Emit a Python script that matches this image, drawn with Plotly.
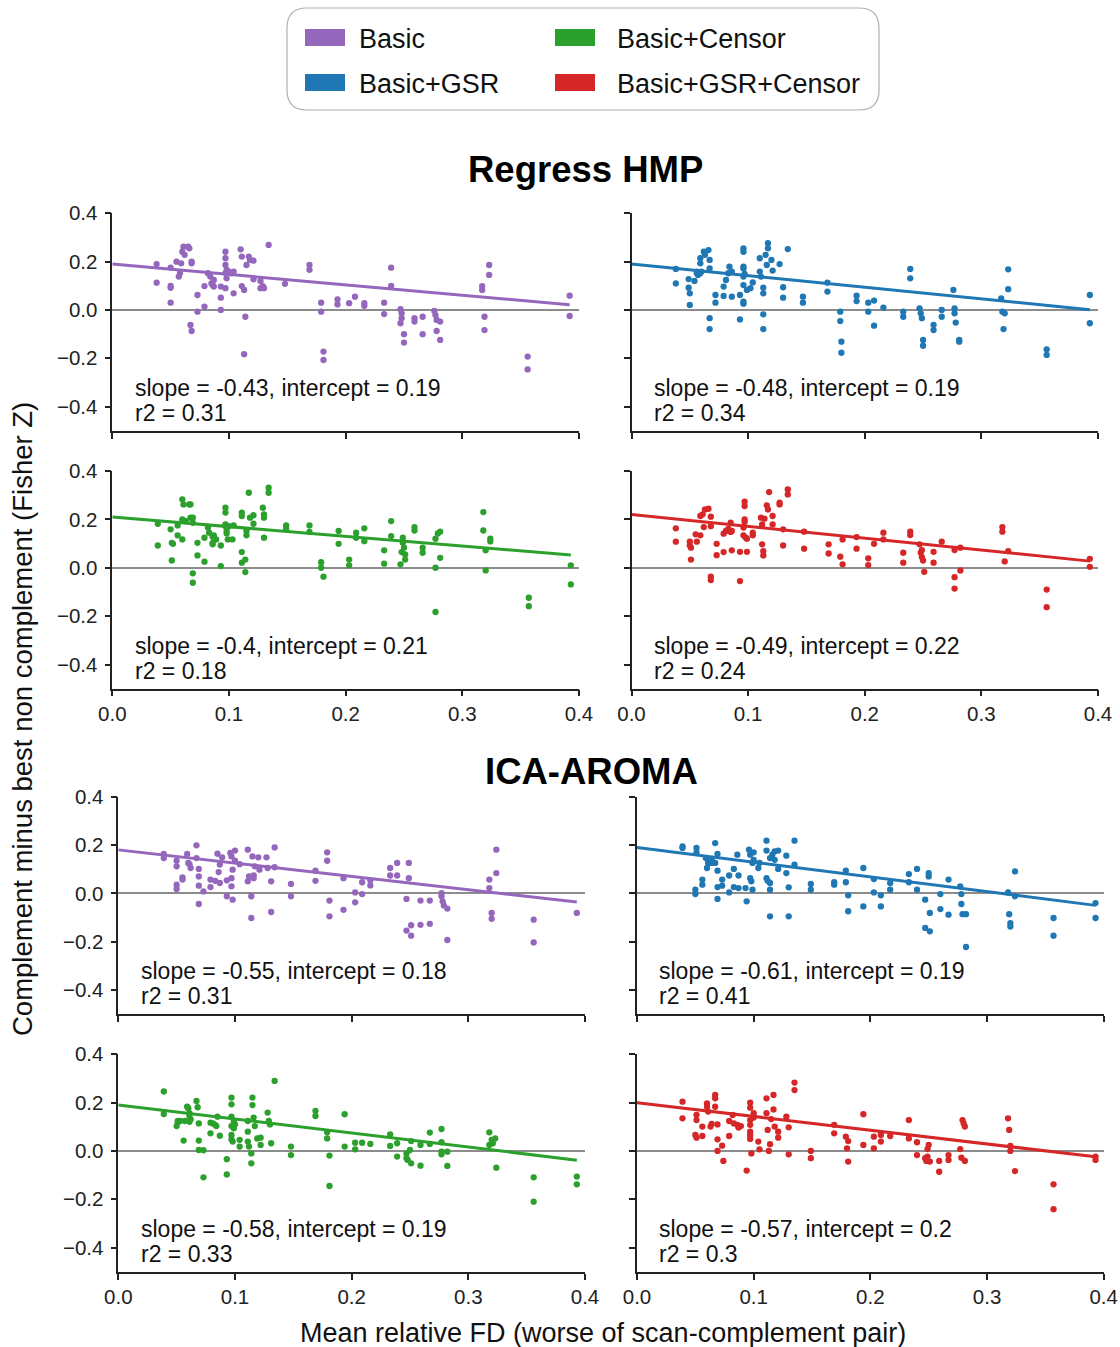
import plotly.graph_objects as go

W, H = 1120, 1347

# ---------------- data ----------------
CONDITIONS = ["Basic", "Basic+GSR", "Basic+Censor", "Basic+GSR+Censor"]
COLORS = ["#9467bd", "#1f77b4", "#2ca02c", "#d62728"]
SECTIONS = ["Regress HMP", "ICA-AROMA"]
X_TICKS = [0.0, 0.1, 0.2, 0.3, 0.4]
Y_TICKS = [-0.4, -0.2, 0.0, 0.2, 0.4]

HMP_BASIC = [(0.038,0.190),(0.038,0.113),
(0.050,0.175),(0.050,0.092),(0.050,0.100),(0.050,0.030),
(0.055,0.200),(0.057,0.138),(0.058,0.152),(0.059,0.193),(0.060,0.241),(0.061,0.262),(0.062,0.228),(0.065,0.262),(0.066,0.255),(0.068,0.193),(0.068,0.200),(0.067,-0.062),(0.068,-0.087),(0.073,0.062),(0.073,-0.007),
(0.079,0.099),(0.079,0.014),(0.082,0.152),(0.084,0.138),(0.085,0.110),(0.087,0.124),(0.087,0.097),(0.086,0.103),
(0.093,0.051),(0.093,0.000),(0.093,0.097),
(0.097,0.241),(0.097,0.214),(0.097,0.186),(0.097,0.152),(0.098,0.131),(0.097,0.090),(0.098,0.166),(0.100,0.159),(0.102,0.152),(0.104,0.159),(0.104,0.069),
(0.110,0.251),(0.111,0.221),(0.111,0.099),(0.113,0.083),(0.114,-0.028),(0.113,-0.183),(0.115,0.186),(0.117,0.221),(0.118,0.207),(0.121,0.204),(0.121,0.127),(0.127,0.120),(0.127,0.090),(0.129,0.099),(0.130,0.090),
(0.134,0.269),(0.148,0.108),(0.169,0.186),(0.169,0.166),
(0.179,0.030),(0.179,-0.007),(0.181,-0.172),(0.181,-0.207),
(0.193,0.044),(0.193,0.023),(0.203,0.028),(0.208,0.055),(0.216,0.028),(0.216,0.017),
(0.233,0.030),(0.233,-0.017),(0.239,0.175),(0.239,0.100),
(0.247,0.003),(0.248,-0.014),(0.248,-0.034),(0.247,-0.055),(0.250,-0.100),(0.250,-0.135),
(0.259,-0.034),(0.259,-0.048),(0.266,-0.028),(0.266,-0.100),
(0.276,-0.004),(0.277,-0.021),(0.278,-0.041),(0.281,-0.048),(0.278,-0.087),(0.281,-0.124),
(0.317,0.099),(0.317,0.083),(0.319,-0.028),(0.319,-0.083),(0.323,0.186),(0.323,0.145),
(0.356,-0.193),(0.356,-0.246),
(0.392,0.059),(0.392,-0.025)]

HMP_GSR = [(0.038,0.170),(0.038,0.110),
(0.049,0.128),(0.049,0.092),(0.050,0.069),(0.050,0.021),
(0.054,0.120),(0.056,0.152),(0.057,0.145),(0.059,0.214),(0.059,0.193),(0.060,0.159),(0.062,0.241),(0.063,0.228),(0.066,0.248),(0.067,0.207),(0.067,0.172),(0.067,-0.034),(0.067,-0.079),(0.072,0.062),(0.072,0.030),(0.059,0.152),(0.056,0.159),
(0.079,0.097),(0.079,0.058),(0.081,0.124),(0.083,0.152),(0.084,0.179),(0.086,0.159),(0.086,0.055),(0.093,0.062),(0.093,-0.039),
(0.096,0.255),(0.096,0.241),(0.096,0.172),(0.096,0.179),(0.096,0.138),(0.096,0.103),(0.096,0.034),(0.096,0.026),(0.099,0.083),(0.102,0.090),(0.104,0.114),(0.097,0.149),
(0.110,0.214),(0.110,0.159),(0.111,0.138),(0.113,0.092),(0.113,0.069),(0.113,-0.018),(0.113,-0.079),(0.115,0.228),(0.116,0.186),(0.117,0.276),(0.117,0.255),(0.120,0.207),(0.121,0.163),(0.127,0.190),(0.130,0.094),(0.130,0.051),(0.134,0.252),
(0.147,0.055),(0.147,0.030),(0.168,0.113),(0.168,0.076),
(0.179,-0.007),(0.179,-0.046),(0.180,-0.131),(0.180,-0.177),
(0.193,0.059),(0.193,0.037),(0.203,0.030),(0.203,-0.007),(0.208,0.039),(0.208,-0.065),(0.216,0.010),
(0.233,-0.007),(0.233,-0.028),(0.239,0.170),(0.239,0.131),
(0.247,0.007),(0.248,-0.014),(0.249,-0.034),(0.250,-0.124),(0.250,-0.148),
(0.259,-0.062),(0.259,-0.083),(0.266,0.000),(0.266,-0.028),
(0.276,0.083),(0.277,0.007),(0.277,-0.014),(0.278,-0.052),(0.281,-0.124),(0.281,-0.131),
(0.317,0.048),(0.318,-0.007),(0.320,-0.014),(0.319,-0.079),(0.323,0.168),(0.323,0.086),
(0.356,-0.163),(0.356,-0.186),
(0.393,0.062),(0.393,-0.055)]

HMP_CENSOR = [(0.039,0.182),(0.039,0.092),
(0.050,0.159),(0.051,0.103),(0.052,0.099),(0.051,0.030),
(0.056,0.134),(0.056,0.175),(0.060,0.117),(0.060,0.283),(0.061,0.262),(0.060,0.200),(0.062,0.193),(0.063,0.193),(0.066,0.262),(0.067,0.262),(0.067,0.207),(0.069,0.207),(0.069,0.186),(0.069,-0.023),(0.069,-0.062),(0.073,0.103),(0.073,0.051),(0.079,0.025),(0.079,0.124),
(0.082,0.166),(0.083,0.145),(0.086,0.128),(0.086,0.103),(0.086,0.097),(0.087,0.134),(0.089,0.117),(0.093,0.092),(0.093,0.007),
(0.097,0.248),(0.097,0.228),(0.097,0.179),(0.097,0.172),(0.098,0.152),(0.098,0.142),(0.099,0.117),(0.100,0.172),(0.103,0.117),(0.104,0.175),
(0.111,0.228),(0.111,0.214),(0.111,0.065),(0.111,0.021),(0.114,0.034),(0.114,-0.018),(0.115,0.152),(0.115,0.134),(0.117,0.310),(0.118,0.207),(0.121,0.217),(0.121,0.182),(0.129,0.248),(0.130,0.221),(0.130,0.207),(0.130,0.124),(0.134,0.331),(0.134,0.310),
(0.149,0.175),(0.149,0.161),(0.169,0.175),(0.169,0.148),
(0.179,0.023),(0.179,0.000),(0.181,-0.037),
(0.194,0.152),(0.194,0.099),(0.203,0.034),(0.203,0.010),(0.209,0.145),(0.209,0.124),(0.216,0.163),(0.216,0.110),
(0.233,0.072),(0.233,0.017),(0.239,0.193),(0.239,0.131),
(0.247,0.014),(0.248,0.065),(0.249,0.124),(0.249,0.103),(0.250,0.083),(0.251,0.055),(0.251,0.034),
(0.259,0.168),(0.259,0.154),(0.266,0.083),(0.266,0.062),
(0.277,0.000),(0.277,0.120),(0.279,0.142),(0.281,0.149),(0.281,0.041),(0.277,-0.183),
(0.318,0.230),(0.318,0.154),(0.320,0.072),(0.320,-0.011),(0.324,0.120),(0.324,0.109),
(0.357,-0.124),(0.357,-0.159),
(0.393,0.010),(0.393,-0.069)]

HMP_GSR_CENSOR = [(0.038,0.163),(0.038,0.108),
(0.050,0.108),(0.050,0.092),(0.051,0.083),(0.051,0.034),
(0.055,0.138),(0.056,0.108),(0.059,0.134),(0.059,0.214),(0.061,0.221),(0.062,0.168),(0.063,0.241),(0.066,0.244),(0.068,0.211),(0.068,0.172),(0.068,-0.037),(0.068,-0.051),(0.073,0.099),(0.073,0.052),
(0.079,0.141),(0.079,0.065),(0.081,0.152),(0.083,0.161),(0.085,0.186),(0.085,0.148),(0.086,0.152),(0.086,0.072),(0.093,-0.055),(0.093,0.066),(0.099,0.066),
(0.097,0.273),(0.097,0.255),(0.097,0.200),(0.097,0.189),(0.096,0.166),(0.096,0.134),(0.098,0.124),(0.099,0.120),(0.104,0.145),(0.104,0.134),
(0.111,0.207),(0.112,0.179),(0.112,0.097),(0.113,0.069),(0.113,0.051),(0.114,0.203),(0.116,0.258),(0.117,0.241),(0.118,0.313),(0.121,0.214),(0.121,0.179),(0.127,0.262),(0.127,0.269),(0.130,0.159),(0.130,0.092),(0.134,0.324),(0.134,0.303),
(0.148,0.149),(0.148,0.079),(0.169,0.097),(0.169,0.059),
(0.179,0.046),(0.181,0.117),(0.181,0.014),
(0.193,0.127),(0.193,0.079),(0.203,0.039),(0.203,0.011),(0.208,0.099),(0.216,0.145),(0.216,0.117),
(0.233,0.062),(0.233,0.021),(0.239,0.149),(0.239,0.135),
(0.247,0.097),(0.248,0.062),(0.249,0.044),(0.250,0.030),(0.251,-0.017),(0.249,0.073),
(0.259,0.066),(0.259,0.021),(0.266,0.108),
(0.277,0.073),(0.277,-0.039),(0.277,-0.086),(0.282,0.083),(0.282,-0.011),
(0.318,0.168),(0.318,0.149),(0.320,0.026),(0.323,0.069),
(0.356,-0.090),(0.356,-0.163),
(0.393,0.037),(0.393,0.004)]

AROMA_BASIC = [(0.039,0.163),(0.039,0.146),
(0.050,0.135),(0.050,0.112),(0.050,0.036),(0.050,0.018),(0.055,0.066),(0.055,0.057),
(0.059,0.163),(0.060,0.126),(0.061,0.121),(0.062,0.105),(0.067,0.199),(0.067,0.146),(0.069,0.101),(0.069,0.070),(0.069,0.032),(0.069,-0.044),(0.073,0.008),(0.079,0.026),(0.079,0.057),(0.083,0.052),(0.085,0.164),(0.086,0.088),(0.087,0.119),(0.087,0.043),(0.089,0.149),
(0.093,0.054),(0.093,-0.012),(0.096,0.167),(0.097,0.153),(0.097,0.063),(0.097,0.029),(0.098,0.098),(0.098,-0.026),(0.100,0.177),(0.104,0.121),(0.100,0.135),
(0.111,0.181),(0.111,0.050),(0.112,0.070),(0.114,-0.012),(0.114,-0.102),(0.115,0.153),(0.116,0.063),(0.116,0.074),(0.117,0.112),(0.120,0.149),(0.121,0.098),(0.127,0.149),(0.128,0.105),(0.131,0.050),(0.131,-0.077),(0.134,0.190),(0.134,0.108),
(0.148,0.039),(0.148,-0.012),
(0.169,0.094),(0.169,0.052),(0.179,0.170),(0.179,0.135),(0.181,-0.030),(0.181,-0.095),
(0.193,0.063),(0.193,-0.068),
(0.203,0.004),(0.203,-0.037),(0.209,0.046),(0.209,-0.003),(0.216,0.054),(0.216,0.033),
(0.233,0.105),(0.233,0.074),(0.239,0.126),(0.239,0.074),
(0.247,-0.023),(0.247,-0.154),(0.249,0.126),(0.249,0.063),(0.251,-0.132),(0.251,-0.175),
(0.259,-0.030),(0.259,-0.130),(0.267,-0.030),(0.267,-0.126),
(0.277,0.001),(0.277,-0.012),(0.278,-0.033),(0.279,-0.050),(0.282,-0.063),(0.282,-0.193),
(0.318,0.057),(0.318,0.022),(0.320,-0.081),(0.320,-0.105),(0.324,0.181),(0.324,0.084),
(0.356,-0.109),(0.356,-0.203),
(0.393,-0.081)]

AROMA_GSR = [(0.039,0.194),(0.039,0.188),
(0.050,0.015),(0.050,-0.003),(0.051,0.188),(0.051,0.170),
(0.056,0.057),(0.056,0.036),(0.059,0.146),(0.060,0.105),(0.061,0.126),(0.061,0.135),(0.063,0.126),(0.064,0.139),(0.066,0.126),(0.067,0.208),(0.067,0.126),(0.069,0.163),(0.069,0.094),(0.069,0.026),(0.069,-0.023),(0.073,0.032),(0.073,0.057),(0.079,0.074),(0.079,0.004),(0.083,0.101),(0.083,0.026),(0.086,0.160),(0.087,0.074),(0.087,0.022),(0.093,0.022),(0.094,-0.033),
(0.096,0.181),(0.097,0.160),(0.097,0.063),(0.098,0.050),(0.099,0.015),(0.099,0.126),(0.100,0.170),(0.100,0.139),(0.104,0.105),(0.105,0.126),
(0.111,0.218),(0.111,0.177),(0.111,0.063),(0.112,0.052),(0.114,0.043),(0.114,0.015),(0.114,-0.095),(0.114,0.146),(0.116,0.160),(0.118,0.174),(0.118,0.139),(0.121,0.177),(0.121,0.101),(0.128,0.156),(0.128,0.084),(0.130,0.025),(0.130,-0.095),(0.135,0.218),(0.135,0.119),
(0.149,0.039),(0.149,0.015),(0.169,0.046),(0.169,0.036),
(0.179,0.094),(0.179,0.046),(0.181,-0.008),(0.181,-0.074),
(0.194,0.105),(0.194,-0.054),
(0.203,0.059),(0.203,0.004),(0.209,-0.008),(0.209,-0.054),(0.217,0.043),(0.217,0.015),
(0.233,0.080),(0.233,0.046),(0.240,0.101),(0.240,0.015),
(0.247,-0.026),(0.247,-0.143),(0.250,0.084),(0.250,0.070),(0.251,-0.081),(0.251,-0.157),
(0.260,-0.003),(0.260,-0.065),(0.267,0.057),(0.267,-0.088),
(0.277,0.029),(0.278,-0.003),(0.278,-0.044),(0.279,-0.086),(0.282,-0.086),(0.282,-0.222),
(0.318,0.004),(0.319,-0.086),(0.320,-0.123),(0.320,-0.137),(0.324,-0.012),(0.324,0.091),
(0.357,-0.102),(0.357,-0.175),
(0.393,-0.040),(0.393,-0.102)]

AROMA_CENSOR = [(0.039,0.246),(0.039,0.153),
(0.050,0.103),(0.051,0.124),(0.051,0.119),(0.053,0.124),(0.056,0.043),(0.057,0.124),(0.059,0.183),(0.060,0.177),(0.061,0.156),(0.061,0.145),(0.061,0.121),(0.062,0.131),(0.067,0.207),(0.068,0.181),(0.069,0.114),(0.069,0.043),(0.069,0.004),(0.073,0.003),(0.073,-0.109),(0.079,0.073),(0.079,0.117),(0.081,0.114),(0.083,0.108),(0.084,0.103),(0.085,0.142),(0.087,0.063),(0.093,-0.034),(0.093,-0.097),
(0.097,0.221),(0.097,0.193),(0.097,0.142),(0.097,0.103),(0.097,0.066),(0.097,0.048),(0.098,0.039),(0.099,0.094),(0.099,0.121),(0.100,0.110),(0.104,0.046),(0.104,0.018),
(0.111,0.124),(0.111,0.080),(0.111,0.039),(0.112,0.018),(0.114,-0.010),(0.114,-0.051),(0.115,0.221),(0.115,0.190),(0.116,0.138),(0.117,0.103),(0.119,0.052),(0.122,0.055),(0.122,0.025),(0.128,0.159),(0.129,0.124),(0.130,0.110),(0.131,0.032),(0.134,0.290),
(0.148,0.018),(0.148,-0.017),(0.169,0.166),(0.169,0.145),
(0.179,0.077),(0.179,0.052),(0.181,-0.019),(0.181,-0.145),
(0.194,0.152),(0.194,0.018),
(0.203,0.034),(0.203,0.007),(0.209,0.034),(0.216,0.029),
(0.233,0.069),(0.233,0.021),(0.239,0.032),(0.239,-0.023),
(0.247,-0.010),(0.247,-0.030),(0.248,-0.037),(0.250,0.004),(0.251,-0.051),(0.251,0.041),
(0.259,0.025),(0.259,-0.061),(0.267,0.076),(0.267,0.029),
(0.277,0.091),(0.277,0.036),(0.277,-0.003),(0.277,-0.014),(0.282,-0.003),(0.282,-0.062),
(0.318,0.077),(0.318,0.025),(0.320,0.046),(0.321,0.032),(0.323,0.052),(0.324,-0.069),
(0.356,-0.109),(0.356,-0.210),
(0.393,-0.106),(0.393,-0.138)]

AROMA_GSR_CENSOR = [(0.039,0.204),(0.039,0.135),
(0.050,0.066),(0.051,0.055),(0.051,0.149),(0.051,0.128),(0.056,0.062),(0.056,0.101),(0.060,0.197),(0.060,0.183),(0.061,0.163),(0.063,0.101),(0.064,0.112),(0.067,0.232),(0.067,0.218),(0.067,0.183),(0.069,0.110),(0.069,0.048),(0.069,0.000),(0.073,0.022),(0.074,-0.041),(0.079,0.062),(0.079,0.124),(0.082,0.149),(0.083,0.114),(0.086,0.108),(0.087,0.097),(0.089,0.103),(0.094,-0.081),
(0.097,0.200),(0.097,0.179),(0.097,0.128),(0.097,0.108),(0.097,0.080),(0.097,0.066),(0.097,0.050),(0.098,-0.010),(0.100,0.156),(0.100,0.138),(0.104,0.039),(0.105,0.007),
(0.111,0.218),(0.111,0.156),(0.112,0.087),(0.113,0.000),(0.114,0.028),(0.115,0.132),(0.117,0.232),(0.117,0.172),(0.118,0.101),(0.121,0.080),(0.121,0.055),(0.128,0.142),(0.130,0.098),(0.130,-0.014),(0.135,0.283),(0.135,0.252),
(0.149,0.000),(0.149,-0.030),(0.169,0.108),(0.169,0.073),
(0.179,0.059),(0.181,0.041),(0.180,0.011),(0.181,-0.044),
(0.194,0.152),(0.194,0.025),
(0.203,0.059),(0.203,0.011),(0.209,0.066),(0.209,0.039),(0.217,0.062),
(0.233,0.128),(0.233,0.052),(0.240,0.036),(0.240,-0.017),
(0.247,-0.030),(0.248,-0.041),(0.249,-0.023),(0.250,0.025),(0.251,-0.044),(0.249,0.008),
(0.259,-0.041),(0.259,-0.086),(0.267,-0.017),(0.267,-0.037),
(0.277,0.008),(0.278,-0.028),(0.279,0.128),(0.280,0.114),(0.281,0.101),(0.281,-0.041),
(0.318,0.135),(0.319,0.087),(0.320,0.021),(0.320,0.000),(0.324,-0.083),
(0.357,-0.138),(0.357,-0.241),
(0.393,-0.023),(0.393,-0.037)]

# panel order: HMP (Basic, GSR, Censor, GSR+Censor), AROMA (same)
PANEL_POINTS = [HMP_BASIC, HMP_GSR, HMP_CENSOR, HMP_GSR_CENSOR,
                AROMA_BASIC, AROMA_GSR, AROMA_CENSOR, AROMA_GSR_CENSOR]
SLOPES = [-0.43, -0.48, -0.4, -0.49, -0.55, -0.61, -0.58, -0.57]
INTERCEPTS = [0.19, 0.19, 0.21, 0.22, 0.18, 0.19, 0.19, 0.2]
R2 = [0.31, 0.34, 0.18, 0.24, 0.31, 0.41, 0.33, 0.3]

# ---------------- layout geometry (pixels of the reference) ----------------
FONT = "Liberation Sans, Arial, Helvetica, sans-serif"
INK = "#222222"

def fx(p):
    return p / W

def fy(p):
    return 1 - p / H

# [left, right] pixels of x-axes per column, [top, bottom] pixels of y-axes per row
COL_PX = [[(112.3, 579.0), (631.5, 1098.0)], [(118.3, 585.0), (637.0, 1103.7)]]
ROW_PX = [(213.3, 430.8), (471.0, 688.7), (796.7, 1014.2), (1054.3, 1271.8)]

fig = go.Figure()
layout_axes = {}
annotations = []

for i, pts in enumerate(PANEL_POINTS):
    sec = i // 4
    k = i % 4
    row = sec * 2 + k // 2
    col = k % 2
    n = i + 1
    xa = "x" if n == 1 else f"x{n}"
    ya = "y" if n == 1 else f"y{n}"
    xs = [p[0] for p in pts]
    ys = [p[1] for p in pts]
    color = COLORS[k]
    fig.add_trace(go.Scatter(x=xs, y=ys, mode="markers", xaxis=xa, yaxis=ya,
                             marker=dict(size=6.3, color=color, line=dict(width=0)),
                             showlegend=False, hoverinfo="x+y"))
    x_end = max(xs)
    lx = [0.0, x_end]
    ly = [INTERCEPTS[i] + SLOPES[i] * v for v in lx]
    fig.add_trace(go.Scatter(x=lx, y=ly, mode="lines", xaxis=xa, yaxis=ya,
                             line=dict(color=color, width=3),
                             showlegend=False, hoverinfo="skip"))
    l, r = COL_PX[sec][col]
    t, b = ROW_PX[row]
    show_x = (row % 2 == 1)
    show_y = (col == 0)
    layout_axes["xaxis" if n == 1 else f"xaxis{n}"] = dict(
        domain=[fx(l), fx(r)], range=[0, 0.4], anchor=ya, automargin=False,
        tickvals=X_TICKS, tickformat=".1f", ticks="outside", ticklen=6,
        tickwidth=1.5, tickcolor=INK, showline=True, linecolor=INK, linewidth=1.5,
        showgrid=False, zeroline=False, showticklabels=show_x,
        tickfont=dict(family=FONT, size=20.5, color=INK))
    layout_axes["yaxis" if n == 1 else f"yaxis{n}"] = dict(
        domain=[fy(b), fy(t)], range=[-0.5, 0.4], anchor=xa, automargin=False,
        tickvals=Y_TICKS, tickformat=".1f", ticks="outside", ticklen=6,
        tickwidth=1.5, tickcolor=INK, showline=True, linecolor=INK, linewidth=1.5,
        showgrid=False, zeroline=True, zerolinecolor="#8c8c8c", zerolinewidth=1.5,
        ticklabelstandoff=3,
        showticklabels=show_y, tickfont=dict(family=FONT, size=20.5, color=INK))
    annotations.append(dict(xref=xa, yref=ya, x=0.0175, y=-0.322, xanchor="left",
                            yanchor="middle", showarrow=False,
                            text=f"slope = {SLOPES[i]}, intercept = {INTERCEPTS[i]}",
                            font=dict(family=FONT, size=23, color="#111111")))
    annotations.append(dict(xref=xa, yref=ya, x=0.0175, y=-0.426, xanchor="left",
                            yanchor="middle", showarrow=False,
                            text=f"r2 = {R2[i]}",
                            font=dict(family=FONT, size=23, color="#111111")))

# section titles
for txt, (px_, py_) in zip(SECTIONS, [(585, 169), (591, 771)]):
    annotations.append(dict(xref="paper", yref="paper", x=fx(px_), y=fy(py_),
                            xanchor="center", yanchor="middle", showarrow=False,
                            text=f"<b>{txt}</b>",
                            font=dict(family=FONT, size=36.5, color="#000000")))

# axis titles
annotations.append(dict(xref="paper", yref="paper", x=fx(603), y=fy(1333),
                        xanchor="center", yanchor="middle", showarrow=False,
                        text="Mean relative FD (worse of scan-complement pair)",
                        font=dict(family=FONT, size=27, color="#111111")))
annotations.append(dict(xref="paper", yref="paper", x=fx(22), y=fy(719),
                        xanchor="center", yanchor="middle", showarrow=False,
                        textangle=-90,
                        text="Complement minus best non complement (Fisher Z)",
                        font=dict(family=FONT, size=27.5, color="#111111")))

# legend (drawn as a framed box with colour patches)
shapes = []
bx0, bx1, by0, by1, rad = 287, 879, 8, 110, 20
path = (f"M {fx(bx0+rad)},{fy(by0)} L {fx(bx1-rad)},{fy(by0)} "
        f"Q {fx(bx1)},{fy(by0)} {fx(bx1)},{fy(by0+rad)} "
        f"L {fx(bx1)},{fy(by1-rad)} Q {fx(bx1)},{fy(by1)} {fx(bx1-rad)},{fy(by1)} "
        f"L {fx(bx0+rad)},{fy(by1)} Q {fx(bx0)},{fy(by1)} {fx(bx0)},{fy(by1-rad)} "
        f"L {fx(bx0)},{fy(by0+rad)} Q {fx(bx0)},{fy(by0)} {fx(bx0+rad)},{fy(by0)} Z")
shapes.append(dict(type="path", xref="paper", yref="paper", path=path,
                   line=dict(color="#b0b0b0", width=1.2), fillcolor="rgba(255,255,255,0.9)"))
LEG_POS = [(305, 29, 357), (305, 74, 357), (555, 29, 615), (555, 74, 615)]
for name, color, (lx0, ly0, tx) in zip(CONDITIONS, COLORS, LEG_POS):
    shapes.append(dict(type="rect", xref="paper", yref="paper",
                       x0=fx(lx0), x1=fx(lx0 + 40), y0=fy(ly0 + 17), y1=fy(ly0),
                       line=dict(width=0), fillcolor=color))
    annotations.append(dict(xref="paper", yref="paper", x=fx(tx), y=fy(ly0 + 10),
                            xanchor="left", yanchor="middle", showarrow=False,
                            text=name, font=dict(family=FONT, size=27, color="#111111")))

fig.update_layout(
    width=W, height=H, autosize=False,
    margin=dict(l=0, r=0, t=0, b=0, pad=0, autoexpand=False),
    paper_bgcolor="white", plot_bgcolor="white",
    annotations=annotations, shapes=shapes,
    showlegend=False,
    **layout_axes,
)

fig.write_html("out.html", config={"displayModeBar": False},
               post_script="document.body.style.margin='0';document.body.style.overflow='hidden';")
